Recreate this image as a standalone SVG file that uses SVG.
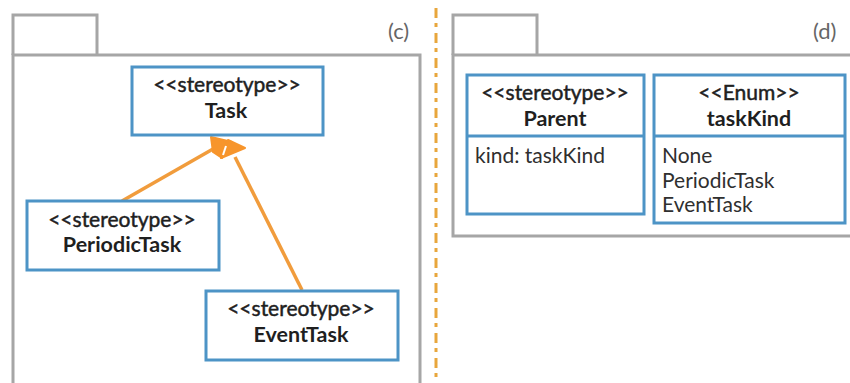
<svg xmlns="http://www.w3.org/2000/svg" width="850" height="383" viewBox="0 0 850 383">
<style>
.pkg{fill:none;stroke:#a6a6a6;stroke-width:3}
.box{fill:#fff;stroke:#4d94c6;stroke-width:3}
.edge{fill:none;stroke:#f19c3c;stroke-width:3.5}
.head{fill:#f7952c;stroke:#f7952c;stroke-width:2;stroke-linejoin:round}
text{font-family:Lato,"Liberation Sans",sans-serif;fill:#1f1f1f;font-size:21px}
.m{text-anchor:middle;stroke:#1f1f1f;stroke-width:.5}
.b{text-anchor:middle;font-weight:700;font-size:21.5px}
.l{fill:#2f2f2f}
.tag{fill:#666;font-size:22px}
</style>
<rect width="850" height="383" fill="#fff"/>
<g id="package-c">
<path class="pkg" d="M13 55V15H97V55"/>
<path class="pkg" d="M13 385V55H420V385"/>
<text class="tag" x="388" y="39">(c)</text>
</g>
<g id="package-d">
<path class="pkg" d="M453 55V15H537V55"/>
<path class="pkg" d="M852 55H453V236H852"/>
<text class="tag" x="813" y="39">(d)</text>
</g>
<path id="divider" d="M436 8V383" fill="none" stroke="#e8a63c" stroke-width="3" stroke-dasharray="10 5 4 6"/>
<g id="connectors">
<path class="edge" d="M122 201L213 149"/>
<path class="edge" d="M302 290L235 157"/>
<path class="head" d="M211 137L232 142L222 158L213 152Z"/>
<path class="head" d="M228 140L245 148L221 158Z"/>
<path d="M226 146L223 155" fill="none" stroke="#fff" stroke-width="2"/>
</g>
<g id="task">
<rect class="box" x="132" y="67" width="191" height="68"/>
<text class="m" x="227" y="92">&lt;&lt;stereotype&gt;&gt;</text>
<text class="b" x="226" y="118">Task</text>
</g>
<g id="periodic-task">
<rect class="box" x="27" y="201" width="192" height="69"/>
<text class="m" x="122" y="227">&lt;&lt;stereotype&gt;&gt;</text>
<text class="b" x="122" y="252">PeriodicTask</text>
</g>
<g id="event-task">
<rect class="box" x="206" y="291" width="192" height="69"/>
<text class="m" x="301" y="316">&lt;&lt;stereotype&gt;&gt;</text>
<text class="b" x="301" y="342">EventTask</text>
</g>
<g id="parent">
<rect class="box" x="467" y="75" width="177" height="139"/>
<path class="box" d="M467 136H644"/>
<text class="m" x="555" y="100">&lt;&lt;stereotype&gt;&gt;</text>
<text class="b" x="555" y="126">Parent</text>
<text class="l" x="475" y="163">kind: taskKind</text>
</g>
<g id="task-kind">
<rect class="box" x="654" y="75" width="191" height="148"/>
<path class="box" d="M654 136H845"/>
<text class="m" x="749" y="100">&lt;&lt;Enum&gt;&gt;</text>
<text class="b" x="749" y="126">taskKind</text>
<text class="l" x="662" y="163">None</text>
<text class="l" x="662" y="188">PeriodicTask</text>
<text class="l" x="662" y="212">EventTask</text>
</g>
</svg>
